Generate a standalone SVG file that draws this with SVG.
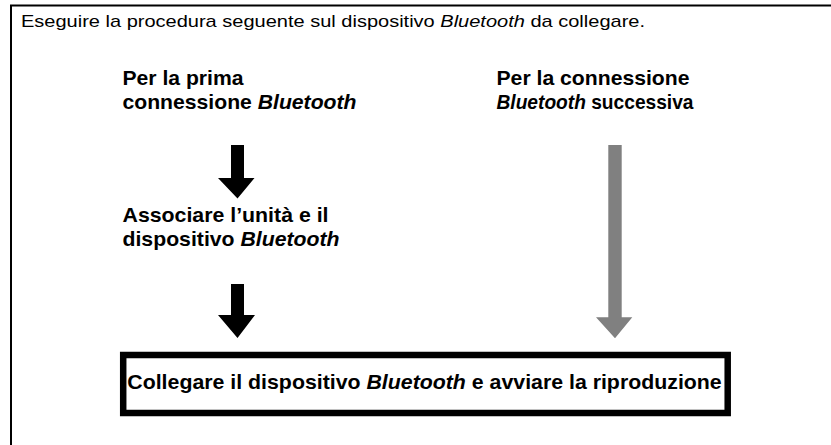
<svg xmlns="http://www.w3.org/2000/svg" width="831" height="445" viewBox="0 0 831 445">
<style>
  text { font-family: "Liberation Sans", Arial, Helvetica, sans-serif; fill: #000; }
  .hdr { font-size: 17px; }
  .lbl { font-size: 20.5px; font-weight: bold; }
  .box { font-size: 21px; font-weight: bold; }
  .it { font-style: italic; }
  .blk { fill: #000; }
  .gry { fill: #808080; }
</style>
<rect x="11" y="5.5" width="840" height="460" fill="#fff" stroke="#000" stroke-width="2"/>
<g id="header">
  <text class="hdr" x="21" y="27" textLength="624" lengthAdjust="spacingAndGlyphs">Eseguire la procedura seguente sul dispositivo <tspan class="it">Bluetooth</tspan> da collegare.</text>
</g>
<g id="node-first">
  <text class="lbl" x="122.5" y="85" textLength="121" lengthAdjust="spacingAndGlyphs">Per la prima</text>
  <text class="lbl" x="122.5" y="109" textLength="234" lengthAdjust="spacingAndGlyphs">connessione <tspan class="it">Bluetooth</tspan></text>
</g>
<g id="node-next">
  <text class="lbl" x="496.5" y="85" textLength="193" lengthAdjust="spacingAndGlyphs">Per la connessione</text>
  <text class="lbl" x="496.5" y="109" textLength="197" lengthAdjust="spacingAndGlyphs"><tspan class="it">Bluetooth</tspan> successiva</text>
</g>
<g id="node-pair">
  <text class="lbl" x="122.5" y="222" textLength="206" lengthAdjust="spacingAndGlyphs">Associare l’unità e il</text>
  <text class="lbl" x="122.5" y="246" textLength="217" lengthAdjust="spacingAndGlyphs">dispositivo <tspan class="it">Bluetooth</tspan></text>
</g>
<g id="node-connect">
  <rect x="123.2" y="355" width="604.5" height="58" fill="#fff" stroke="#000" stroke-width="6.5"/>
  <text class="box" x="127.3" y="389" textLength="594.4" lengthAdjust="spacingAndGlyphs">Collegare il dispositivo <tspan class="it">Bluetooth</tspan> e avviare la riproduzione</text>
</g>
<g id="connectors">
  <polygon class="blk" points="231,145 244,145 244,178 254.5,178 237.5,198.5 218,178 231,178"/>
  <polygon class="blk" points="231,284 244,284 244,315 255,315 237.5,338 218,315 231,315"/>
  <polygon class="gry" points="608.3,145 621.7,145 621.7,317.3 632.3,317.3 615,338.3 596,317.3 608.3,317.3"/>
</g>
</svg>
